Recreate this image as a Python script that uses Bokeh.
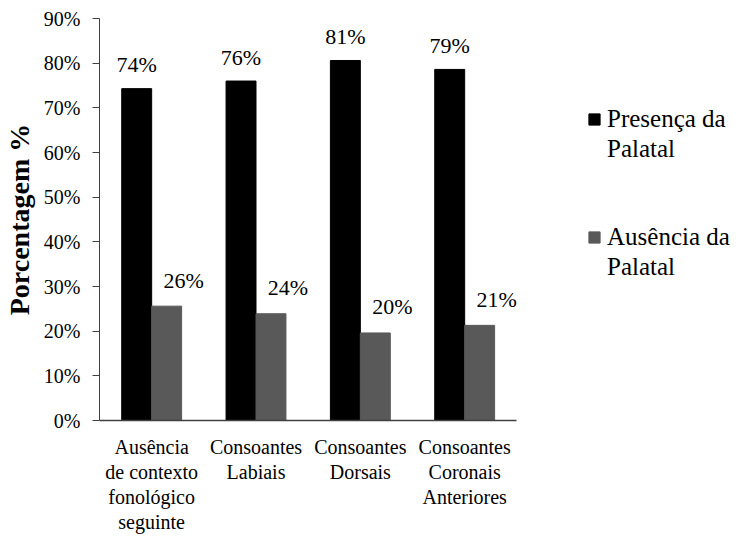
from bokeh.plotting import figure
from bokeh.models import ColumnDataSource, Legend, LegendItem, FixedTicker, PrintfTickFormatter, Range1d
from bokeh.core.properties import value
from bokeh.embed import file_html
from bokeh.resources import INLINE

categories = ["Ausência\nde contexto\nfonológico\nseguinte",
              "Consoantes\nLabiais",
              "Consoantes\nDorsais",
              "Consoantes\nCoronais\nAnteriores"]
presenca = [74.3, 76.0, 80.6, 78.6]
ausencia = [25.6, 23.9, 19.6, 21.3]
series_names = [["Presença da", "Palatal"], ["Ausência da", "Palatal"]]
y_ticks = [0, 10, 20, 30, 40, 50, 60, 70, 80, 90]

FONT = "'Liberation Serif', 'Times New Roman', serif"

n = len(categories)
xc = [i + 0.5 for i in range(n)]
bw = 0.287
src = ColumnDataSource(dict(
    xp=[x - bw / 2 for x in xc],
    xa=[x + bw / 2 for x in xc],
    pres=presenca,
    aus=ausencia,
    pres_lbl=[f"{round(v)}%" for v in presenca],
    aus_lbl=[f"{round(v)}%" for v in ausencia],
))

W, H = 735, 536
left, top, bottom = 98, 18, 104
frame_w = W - left
cat_px = 104.5
p = figure(x_range=Range1d(0, frame_w / cat_px), y_range=Range1d(0, 90),
           width=W, height=H, output_backend="svg", toolbar_location=None,
           min_border_left=left, min_border_right=0, min_border_top=top, min_border_bottom=bottom)
p.outline_line_color = None
p.xgrid.grid_line_color = None
p.ygrid.grid_line_color = None

r1 = p.vbar(x="xp", top="pres", width=bw, source=src, fill_color="black", line_color="black")
r2 = p.vbar(x="xa", top="aus", width=bw, source=src, fill_color="#595959", line_color="#595959")
# invisible renderer used only for the second (glyph-less) legend line
r_blank = p.vbar(x=[], top=[], width=bw, fill_alpha=0, line_alpha=0)

p.text(x="xp", y="pres", text="pres_lbl", source=src,
       text_font=value(FONT), text_font_size="22px", text_align="center",
       text_baseline="middle", y_offset=-24, text_color="black")
p.text(x="xa", y="aus", text="aus_lbl", source=src,
       text_font=value(FONT), text_font_size="22px", text_align="center",
       text_baseline="middle", y_offset=-26, x_offset=17, text_color="black")

p.yaxis.ticker = FixedTicker(ticks=y_ticks)
p.yaxis.formatter = PrintfTickFormatter(format="%d%%")
p.yaxis.major_tick_out = 7
p.yaxis.major_tick_in = 0
p.yaxis.minor_tick_line_color = None
p.yaxis.major_label_text_font = FONT
p.yaxis.major_label_text_font_size = "20px"
p.yaxis.major_label_text_color = "black"
p.yaxis.major_label_standoff = 12
p.yaxis.axis_label = "Porcentagem %"
p.yaxis.axis_label_text_font = FONT
p.yaxis.axis_label_text_font_style = "bold"
p.yaxis.axis_label_text_font_size = "28px"
p.yaxis.axis_label_text_color = "black"
p.yaxis.axis_label_standoff = 6
p.yaxis.axis_line_color = "#404040"
p.yaxis.major_tick_line_color = "#404040"

p.xaxis.ticker = FixedTicker(ticks=xc)
p.xaxis.major_label_overrides = {x: c for x, c in zip(xc, categories)}
p.xaxis.bounds = (0, n)
p.xaxis.major_tick_line_color = None
p.xaxis.minor_tick_line_color = None
p.xaxis.major_label_text_font = FONT
p.xaxis.major_label_text_font_size = "20px"
p.xaxis.major_label_text_line_height = 1.15
p.xaxis.major_label_text_color = "black"
p.xaxis.major_label_standoff = 9
p.xaxis.axis_line_color = "#404040"
p.xaxis.axis_line_width = 1.5


def make_legend(names, rend, loc):
    lg = Legend(items=[LegendItem(label=names[0], renderers=[rend]),
                       LegendItem(label=names[1], renderers=[r_blank])],
                location=loc)
    lg.label_text_font = FONT
    lg.label_text_font_size = "25px"
    lg.label_text_color = "black"
    lg.glyph_width = 14
    lg.glyph_height = 14
    lg.label_standoff = 6
    lg.spacing = 2
    lg.border_line_color = None
    lg.background_fill_alpha = 0
    lg.padding = 0
    lg.margin = 0
    return lg


p.add_layout(make_legend(series_names[0], r1, (488, 257)), "center")
p.add_layout(make_legend(series_names[1], r2, (488, 139)), "center")

open("out.html", "w").write(file_html(p, INLINE))
